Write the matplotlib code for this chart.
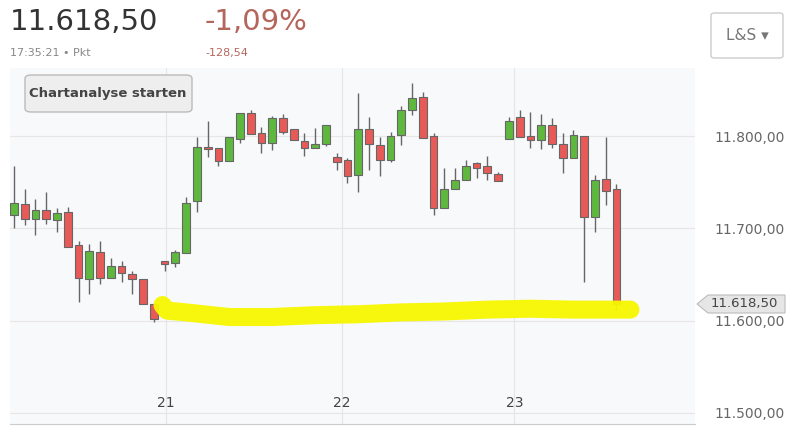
import matplotlib
matplotlib.use("Agg")
import matplotlib.pyplot as plt
from matplotlib.patches import FancyBboxPatch, Polygon

opens = [11715,11727,11710,11720,11709,11718,11682,11645,11675,11646,11659,11651,11645,11618,11665,11663,11673,11730,11788,11787,
         11773,11797,11825,11803,11793,11820,11808,11795,11787,11792,11778,11774,11758,11808,11791,11774,11801,11828,11843,11800,
         11722,11743,11753,11771,11768,11759,11797,11821,11800,11796,11812,11792,11776,11800,11712,11754,11743]
highs = [11768,11743,11732,11740,11722,11723,11686,11683,11686,11668,11665,11654,11645,11618,11665,11677,11734,11799,11817,11787,
         11799,11825,11829,11810,11822,11824,11808,11804,11809,11812,11782,11776,11847,11821,11799,11805,11833,11858,11848,11803,
         11766,11766,11774,11772,11779,11761,11821,11829,11826,11824,11820,11803,11807,11800,11758,11799,11748]
lows  = [11701,11704,11693,11705,11696,11680,11620,11629,11640,11646,11642,11629,11618,11599,11654,11658,11673,11718,11777,11768,
         11773,11793,11802,11782,11785,11802,11796,11779,11787,11789,11763,11749,11740,11763,11757,11772,11790,11823,11798,11715,
         11722,11743,11753,11755,11753,11751,11797,11799,11787,11786,11787,11760,11776,11642,11696,11725,11612]
closes= [11728,11710,11720,11710,11717,11680,11646,11676,11646,11659,11652,11645,11618,11602,11661,11675,11728,11788,11786,11773,
         11799,11825,11802,11793,11820,11805,11796,11787,11792,11812,11772,11757,11808,11792,11774,11800,11829,11841,11798,11722,
         11743,11753,11768,11766,11760,11751,11817,11799,11796,11812,11792,11776,11801,11712,11753,11741,11618.5]
day_labels = ["21", "22", "23"]
day_pos = [14.1, 30.5, 46.5]
y_ticks = [11500, 11600, 11700, 11800]
y_tick_labels = ["11.500,00", "11.600,00", "11.700,00", "11.800,00"]
highlight_x = [13.8, 14.2, 16, 20, 24, 28, 32, 36, 40, 44, 48, 52, 56, 57.3]
highlight_y = [11617, 11611, 11609, 11604, 11604, 11606, 11607, 11609, 11610, 11612, 11613, 11612, 11612, 11612]

W, H = 790, 438
fig = plt.figure(figsize=(W/100, H/100), dpi=100)
fig.patch.set_facecolor("white")
ax = fig.add_axes([10/W, 1-424/H, 685/W, 356/H])
ax.set_facecolor("#f8f9fb")
ax.set_xlim(-0.37, 63.3)
ax.set_ylim(11488, 11874)
for s in ["top", "left", "right"]:
    ax.spines[s].set_visible(False)
ax.spines["bottom"].set_color("#cccccc")
ax.set_yticks(y_ticks)
ax.yaxis.tick_right()
ax.set_yticklabels(y_tick_labels, fontsize=10, color="#666666")
ax.tick_params(axis="y", length=0, pad=14)
ax.set_xticks(day_pos)
ax.set_xticklabels(day_labels, fontsize=10, color="#444444")
ax.tick_params(axis="x", length=0, pad=-20)
ax.grid(True, color="#e6e6e6", lw=0.8)
ax.set_axisbelow(True)

green, red = "#5fb83e", "#e85a58"
for i, (o, h, l, c) in enumerate(zip(opens, highs, lows, closes)):
    col = green if c >= o else red
    ax.vlines(i, l, h, color="#666666", lw=1, zorder=2)
    ax.bar(i, max(abs(c-o), 1.5), bottom=min(o, c), width=0.72, color=col,
           edgecolor="#666666", linewidth=0.8, zorder=3)

ax.plot(highlight_x, highlight_y, color="#f7f700", lw=13, solid_capstyle="round", zorder=4, alpha=0.95)

# header
fig.text(10/W, 1-22/H, "11.618,50", fontsize=21, color="#333333", va="center")
fig.text(205/W, 1-22/H, "-1,09%", fontsize=21, color="#b5665c", va="center")
fig.text(10/W, 1-53/H, "17:35:21 • Pkt", fontsize=8, color="#888888", va="center")
fig.text(205/W, 1-53/H, "-128,54", fontsize=8, color="#b5665c", va="center")
fig.patches.append(FancyBboxPatch((711/W, 1-58/H), 72/W, 45/H, boxstyle="round,pad=0,rounding_size=0.005",
                                  transform=fig.transFigure, facecolor="white", edgecolor="#cccccc", lw=1))
fig.text(747/W, 1-35/H, "L&S ▾", fontsize=11, color="#777777", va="center", ha="center")
fig.patches.append(FancyBboxPatch((25/W, 1-112/H), 167/W, 37/H, boxstyle="round,pad=0,rounding_size=0.008",
                                  transform=fig.transFigure, facecolor="#eeeeee", edgecolor="#bbbbbb", lw=1))
fig.text(108/W, 1-93/H, "Chartanalyse starten", fontsize=9.5, color="#444444", va="center", ha="center", fontweight="bold")
# price tag
yt = 1-304/H
fig.patches.append(Polygon([(697/W, yt), (708/W, yt+9/H), (785/W, yt+9/H), (785/W, yt-9/H), (708/W, yt-9/H)],
                           closed=True, transform=fig.transFigure, facecolor="#e6e6e6", edgecolor="#bbbbbb", lw=0.8))
fig.text(744/W, yt, "11.618,50", fontsize=9.5, color="#444444", va="center", ha="center")

fig.savefig("out.png", dpi=100)
